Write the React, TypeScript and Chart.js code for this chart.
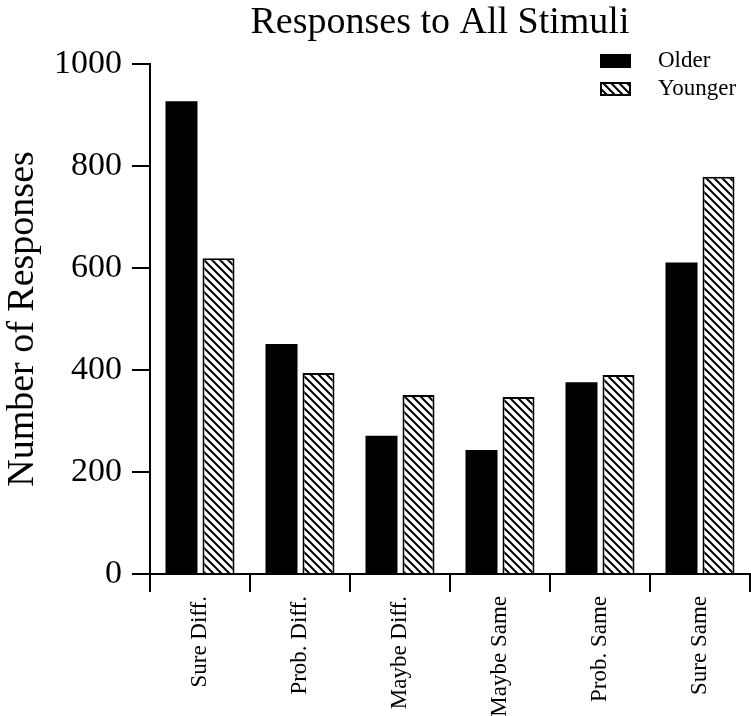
import React, { useEffect, useRef } from "react";
import { Chart, registerables } from "chart.js";

Chart.register(...registerables);

const categories = ["Sure Diff.", "Prob. Diff.", "Maybe Diff.", "Maybe Same", "Prob. Same", "Sure Same"];
const olderValues = [927, 451, 271, 243, 376, 611];
const youngerValues = [619, 394, 351, 347, 390, 779];
const yTicks = [0, 200, 400, 600, 800, 1000];
const chartTitle = "Responses to All Stimuli";
const yTitle = "Number of Responses";
const seriesNames = ["Older", "Younger"];

const FONT = "'Liberation Serif', 'Times New Roman', serif";

function makeHatch(): CanvasPattern | string {
  const c = document.createElement("canvas");
  const s = 8;
  c.width = s;
  c.height = s;
  const ctx = c.getContext("2d");
  if (!ctx) return "#fff";
  ctx.fillStyle = "#fff";
  ctx.fillRect(0, 0, s, s);
  ctx.strokeStyle = "#000";
  ctx.lineWidth = 2;
  ctx.beginPath();
  ctx.moveTo(-2, -2);
  ctx.lineTo(s + 2, s + 2);
  ctx.moveTo(-2 - s, -2);
  ctx.lineTo(2, s + 2);
  ctx.moveTo(s - 2, -2);
  ctx.lineTo(2 * s + 2, s + 2);
  ctx.stroke();
  const p = ctx.createPattern(c, "repeat");
  return p || "#fff";
}

const titleLegendPlugin = {
  id: "titleLegend",
  afterDraw(chart: any) {
    const ctx = chart.ctx;
    ctx.save();
    // title
    ctx.fillStyle = "#000";
    ctx.font = `38px ${FONT}`;
    ctx.textAlign = "center";
    ctx.textBaseline = "alphabetic";
    ctx.fillText(chartTitle, 440, 33);
    // legend
    const x0 = 600;
    const ys = [54, 82];
    chart.data.datasets.forEach((ds: any, i: number) => {
      const y = ys[i];
      ctx.fillStyle = ds.backgroundColor;
      ctx.fillRect(x0, y, 31, 14);
      ctx.strokeStyle = "#000";
      ctx.lineWidth = 2;
      ctx.strokeRect(x0 + 1, y + 1, 29, 12);
      ctx.fillStyle = "#000";
      ctx.font = `23px ${FONT}`;
      ctx.textBaseline = "middle";
      ctx.textAlign = "left";
      ctx.fillText(ds.label, 658, y + 7);
    });
    ctx.restore();
  },
};

export default function App() {
  const ref = useRef<HTMLCanvasElement | null>(null);
  useEffect(() => {
    if (!ref.current) return;
    const hatch = makeHatch();
    const chart = new Chart(ref.current, {
      type: "bar",
      data: {
        labels: categories,
        datasets: [
          {
            label: seriesNames[0],
            data: olderValues,
            backgroundColor: "#000",
            borderColor: "#000",
            borderWidth: 0,
            categoryPercentage: 0.74,
            barPercentage: 0.865,
          },
          {
            label: seriesNames[1],
            data: youngerValues,
            backgroundColor: hatch as any,
            borderColor: "#000",
            borderWidth: 2,
            categoryPercentage: 0.74,
            barPercentage: 0.865,
          },
        ],
      },
      options: {
        responsive: false,
        animation: false,
        layout: { padding: { left: 0, right: 1, top: 64, bottom: 0 } },
        plugins: {
          legend: { display: false },
          tooltip: { enabled: false },
          title: { display: false },
        },
        scales: {
          x: {
            type: "category",
            offset: true,
            grid: {
              display: true,
              offset: true,
              drawOnChartArea: false,
              drawTicks: true,
              tickLength: 18,
              color: "#000",
              lineWidth: 2,
            },
            border: { display: true, color: "#000", width: 2 },
            ticks: {
              color: "#000",
              font: { family: FONT, size: 23 },
              minRotation: 90,
              maxRotation: 90,
              autoSkip: false,
              padding: 4,
            },
            afterFit: (s: any) => {
              s.height = 142;
            },
          },
          y: {
            min: 0,
            max: 1000,
            afterBuildTicks: (s: any) => {
              s.ticks = yTicks.map((v) => ({ value: v }));
            },
            grid: {
              display: true,
              drawOnChartArea: false,
              drawTicks: true,
              tickLength: 18,
              color: "#000",
              lineWidth: 2,
            },
            border: { display: true, color: "#000", width: 2 },
            ticks: {
              color: "#000",
              font: { family: FONT, size: 34 },
              padding: 10,
              callback: (v: any) => String(v),
            },
            title: {
              display: true,
              text: yTitle,
              color: "#000",
              font: { family: FONT, size: 38 },
              padding: { top: 0, bottom: 0 },
            },
            afterFit: (s: any) => {
              s.width = 150;
            },
          },
        },
      },
      plugins: [titleLegendPlugin],
    });
    return () => chart.destroy();
  }, []);
  return (
    <div style={{ position: "absolute", left: 0, top: 0, width: 751, height: 716, background: "#fff" }}>
      <canvas ref={ref} width={751} height={716} style={{ width: 751, height: 716 }} />
    </div>
  );
}
